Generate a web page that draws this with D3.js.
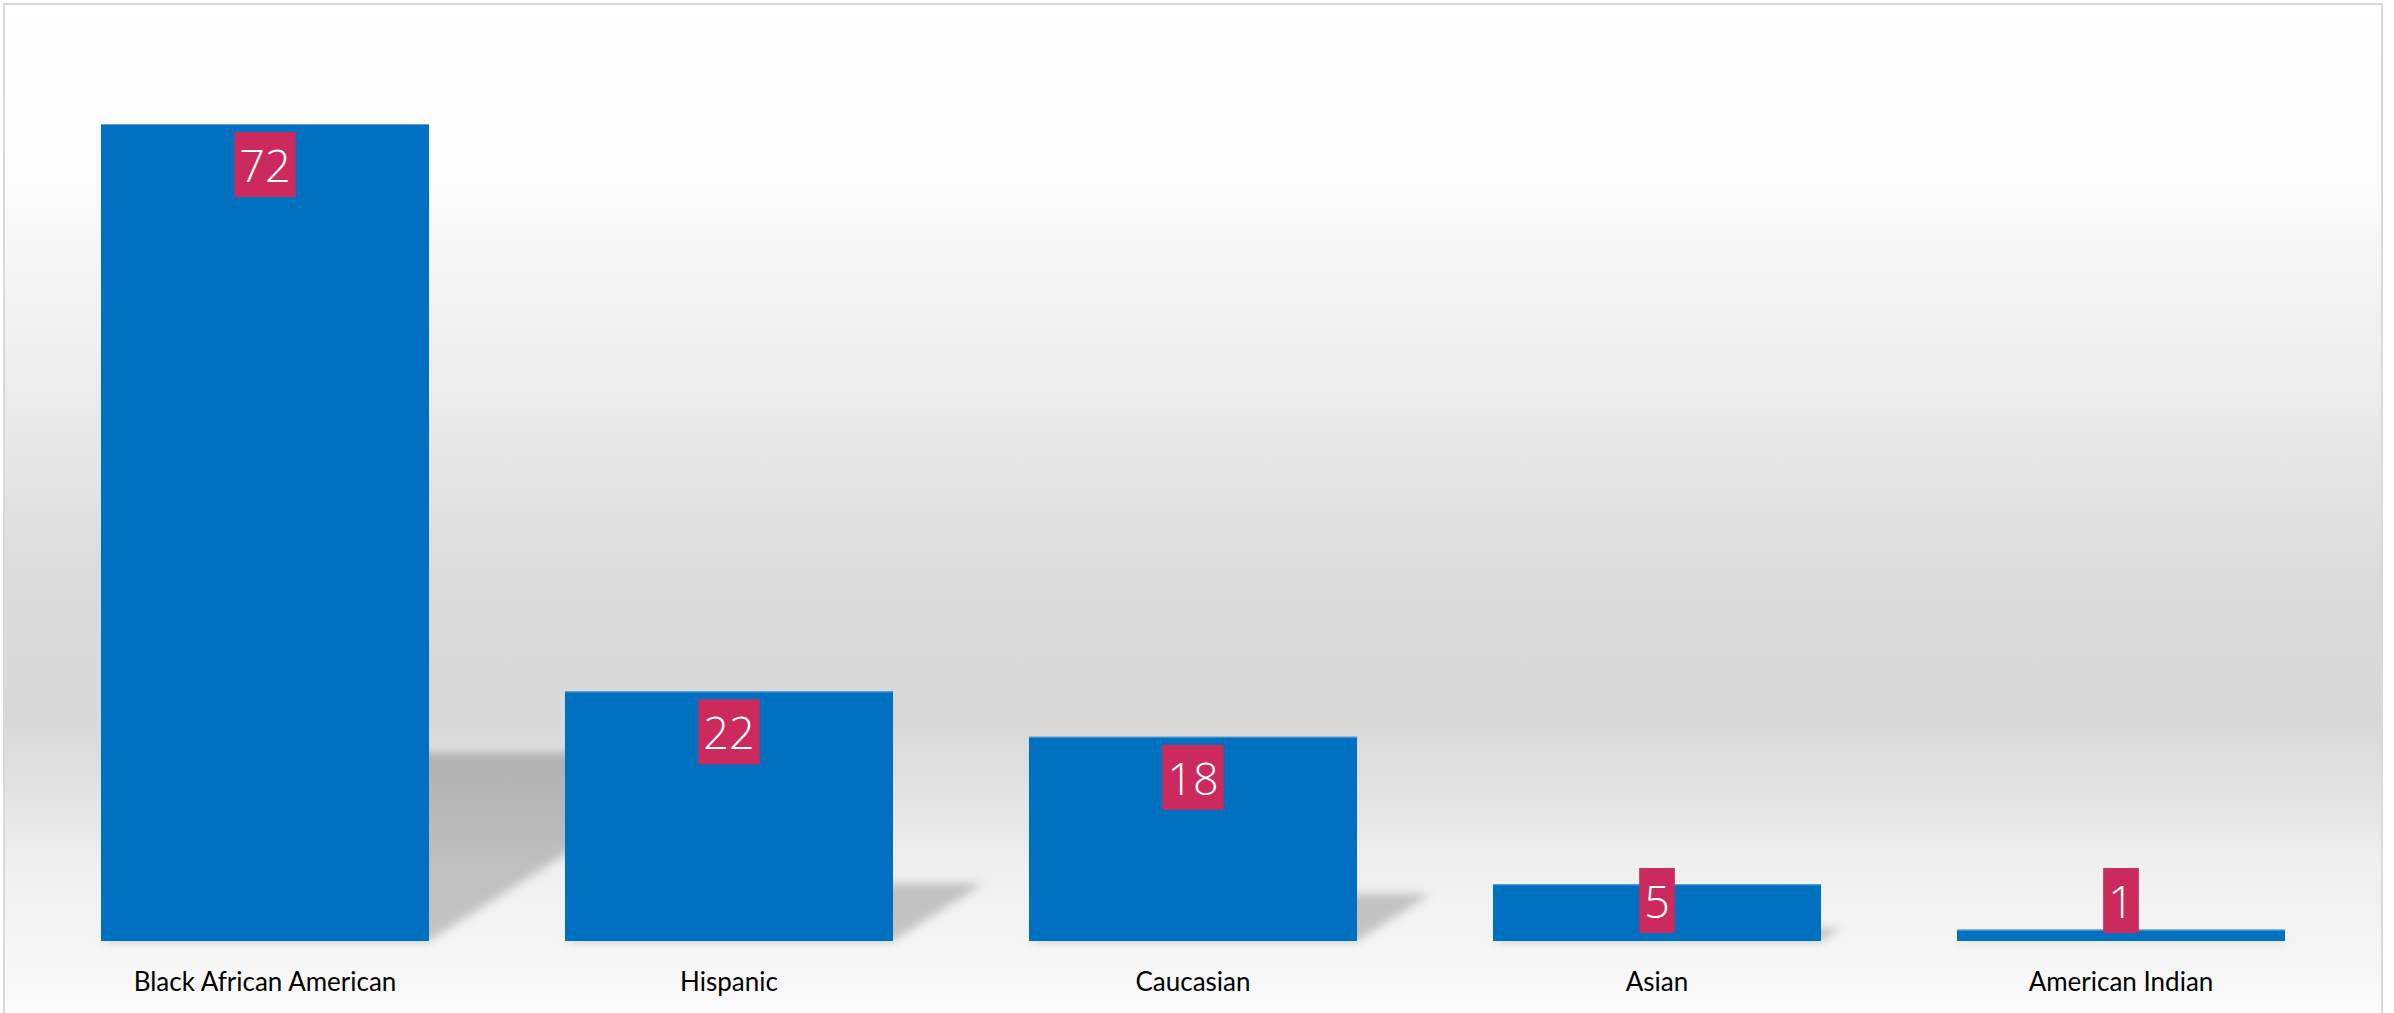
<!DOCTYPE html>
<html>
<head>
<meta charset="utf-8">
<script src="https://cdn.jsdelivr.net/npm/d3@7"></script>
<style>
  html, body { margin: 0; padding: 0; background: #ffffff; }
  svg { display: block; }
</style>
</head>
<body>
<script>
const categories = ["Black African American", "Hispanic", "Caucasian", "Asian", "American Indian"];
const values = [72, 22, 18, 5, 1];
const valueLabels = ["72", "22", "18", "5", "1"];

const W = 2394, H = 1013;
const baseY = 941, topY = 124;

const svg = d3.select("body").append("svg").attr("width", W).attr("height", H);
const defs = svg.append("defs");

const bg = defs.append("linearGradient").attr("id", "bg").attr("x1", 0).attr("y1", 0).attr("x2", 0).attr("y2", 1);
[[0, "#ffffff"], [0.18, "#fbfbfb"], [0.38, "#ececec"], [0.56, "#dbdbdb"], [0.70, "#d8d8d8"], [0.78, "#e4e4e4"], [0.84, "#efefef"], [0.93, "#f6f6f6"], [1, "#fcfcfc"]]
  .forEach(([o, c]) => bg.append("stop").attr("offset", o).attr("stop-color", c));

const blur = defs.append("filter").attr("id", "blur").attr("x", "-20%").attr("y", "-20%").attr("width", "140%").attr("height", "140%");
blur.append("feGaussianBlur").attr("stdDeviation", 5);

// frame
svg.append("rect").attr("x", 4).attr("y", 4).attr("width", 2378).attr("height", H + 10)
  .attr("fill", "url(#bg)").attr("stroke", "#d9d9d9").attr("stroke-width", 2);

const x = d3.scaleBand().domain(categories).range([33, 2353]).paddingInner(0.293).paddingOuter(0.1465);
const y = d3.scaleLinear().domain([0, 72]).range([baseY, topY]);

const data = categories.map((c, i) => ({ c, v: values[i], label: valueLabels[i] }));

// shadows
const k = 0.36, r = 0.23;
svg.append("g").attr("filter", "url(#blur)").selectAll("path").data(data).join("path")
  .attr("d", d => {
    const x0 = x(d.c), x1 = x(d.c) + x.bandwidth();
    const h = y(0) - y(d.v);
    return `M${x0},${y(0)}L${x1},${y(0)}L${x1 + k * h},${y(0) - r * h}L${x0 + k * h},${y(0) - r * h}Z`;
  })
  .attr("fill", "#000").attr("fill-opacity", 0.2);

// bars
svg.append("g").selectAll("rect").data(data).join("rect")
  .attr("x", d => x(d.c)).attr("y", d => y(d.v))
  .attr("width", x.bandwidth()).attr("height", d => y(0) - y(d.v))
  .attr("fill", "#0070c0");
svg.append("g").selectAll("line").data(data).join("line")
  .attr("x1", d => x(d.c)).attr("x2", d => x(d.c) + x.bandwidth())
  .attr("y1", d => y(d.v) + 0.5).attr("y2", d => y(d.v) + 0.5)
  .attr("stroke", "#5fa0d8").attr("stroke-width", 1);

// value labels
const boxH = 65;
const lg = svg.append("g").selectAll("g").data(data).join("g")
  .attr("transform", d => `translate(${x(d.c) + x.bandwidth() / 2},${Math.min(y(d.v) + 8, y(0) - 73)})`);
const rects = lg.append("rect").attr("fill", "#cc295d").attr("y", 0).attr("height", boxH);
const texts = lg.append("text").text(d => d.label)
  .attr("text-anchor", "middle").attr("y", 50)
  .attr("fill", "#ffffff").attr("font-family", "'Open Sans', sans-serif").attr("font-weight", 300)
  .attr("font-size", 45);
texts.each(function (d, i) {
  const w = this.getComputedTextLength() + 10;
  d3.select(rects.nodes()[i]).attr("x", -w / 2).attr("width", w);
});

// category axis
const axis = svg.append("g").attr("transform", `translate(0,${baseY})`)
  .call(d3.axisBottom(x).tickSize(0).tickPadding(0));
axis.select(".domain").remove();
axis.selectAll("text").attr("y", 41).attr("dy", "0.35em")
  .attr("fill", "#000").attr("font-family", "Lato, sans-serif").attr("font-size", 26);
</script>
</body>
</html>
